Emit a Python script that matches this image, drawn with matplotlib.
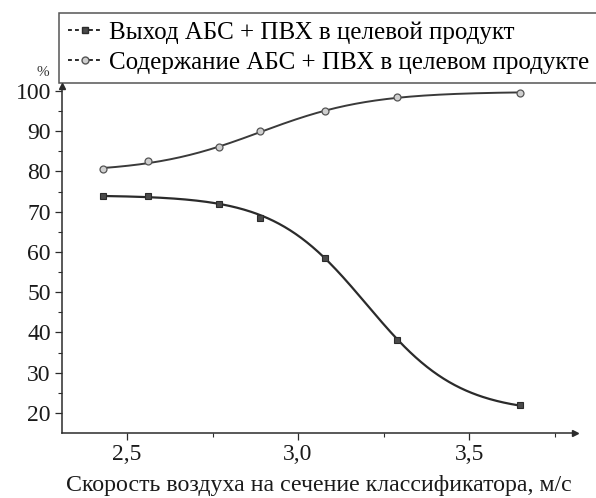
import numpy as np
import matplotlib
matplotlib.use("Agg")
import matplotlib.pyplot as plt
from matplotlib.lines import Line2D

plt.rcParams["font.family"] = ["Liberation Serif", "DejaVu Serif"]

# air velocity, m/s
speed = [2.43, 2.56, 2.77, 2.89, 3.08, 3.29, 3.65]
# yield of ABS + PVC into the target product, %
yield_pct = [74.0, 74.0, 72.0, 68.5, 58.5, 38.0, 22.0]
# ABS + PVC content in the target product, %
content_pct = [80.5, 82.5, 86.0, 90.0, 95.0, 98.5, 99.5]

labels = ["Выход АБС + ПВХ в целевой продукт",
          "Содержание АБС + ПВХ в целевом продукте"]
x_ticks = [2.5, 3.0, 3.5]
x_ticklabels = ["2,5", "3,0", "3,5"]
y_ticks = [20, 30, 40, 50, 60, 70, 80, 90, 100]

ink = "#2b2b2b"


def logistic_fit(x, y, sign):
    """Least-squares sigmoid a + b / (1 + exp(sign*(x - c)/s)) over a grid of c, s."""
    x = np.asarray(x, float)
    y = np.asarray(y, float)
    best = None
    for c in np.linspace(2.4, 3.8, 141):
        for s in np.linspace(0.05, 0.6, 111):
            g = 1.0 / (1.0 + np.exp(sign * (x - c) / s))
            A = np.column_stack([np.ones_like(g), g])
            coef, *_ = np.linalg.lstsq(A, y, rcond=None)
            err = np.sum((A @ coef - y) ** 2)
            if best is None or err < best[0]:
                best = (err, c, s, coef)
    _, c, s, (a, b) = best
    return lambda t: a + b / (1.0 + np.exp(sign * (t - c) / s))


fig = plt.figure(figsize=(5.96, 4.98), dpi=100)
ax = fig.add_axes([0.104, 0.1305, 0.861, 0.6965])

# smooth trend curves fitted to the measured points
xs = np.linspace(min(speed), max(speed), 300)
ax.plot(xs, logistic_fit(speed, yield_pct, 1)(xs), color=ink, lw=1.6, zorder=2)
ax.plot(xs, logistic_fit(speed, content_pct, -1)(xs), color="#3a3a3a",
        lw=1.4, zorder=2)

ax.plot(speed, yield_pct, ls="none", marker="s", ms=5, mfc="#4a4a4a",
        mec=ink, mew=0.8, zorder=3)
ax.plot(speed, content_pct, ls="none", marker="o", ms=5, mfc="#cfcfcf",
        mec="#555555", mew=0.9, zorder=3)

ax.set_xlim(2.31, 3.81)
ax.set_ylim(15, 101.2)
ax.set_xticks(x_ticks)
ax.set_xticklabels(x_ticklabels)
ax.set_xticks([2.75, 3.25, 3.75], minor=True)
ax.set_yticks(y_ticks)
ax.set_yticks([25, 35, 45, 55, 65, 75, 85, 95], minor=True)
ax.tick_params(axis="both", which="major", labelsize=17, length=5,
               width=0.9, color=ink, labelcolor="#1a1a1a", pad=3)
ax.tick_params(axis="both", which="minor", length=3, width=0.8, color=ink)

for side in ("top", "right"):
    ax.spines[side].set_visible(False)
for side in ("left", "bottom"):
    ax.spines[side].set_color(ink)
    ax.spines[side].set_linewidth(1.1)

# arrow heads at the ends of the axes
ax.plot(1, 0, ">", transform=ax.transAxes, color=ink, ms=4, clip_on=False)
ax.plot(0, 1, "^", transform=ax.transAxes, color=ink, ms=4, clip_on=False)

ax.set_xlabel("Скорость воздуха на сечение классификатора, м/с",
              fontsize=17.2, color="#1a1a1a", labelpad=7)
fig.text(0.072, 0.855, "%", fontsize=11, color="#333333",
         ha="center", va="center")

handles = [
    Line2D([], [], color=ink, ls=(0, (2.0, 1.6)), lw=1.4, marker="s", ms=5,
           mfc="#4a4a4a", mec=ink),
    Line2D([], [], color=ink, ls=(0, (2.0, 1.6)), lw=1.4, marker="o", ms=5,
           mfc="#cfcfcf", mec="#555555"),
]
leg = fig.legend(handles, labels, loc="upper left",
                 bbox_to_anchor=(0.099, 0.974, 0.92, 0.0), mode="expand",
                 fontsize=18, frameon=True, fancybox=False,
                 handlelength=1.4, handletextpad=0.25, borderpad=0.35,
                 labelspacing=0.3, borderaxespad=0)
leg.get_frame().set_edgecolor(ink)
leg.get_frame().set_linewidth(1.1)

fig.savefig("out.png", dpi=100)
